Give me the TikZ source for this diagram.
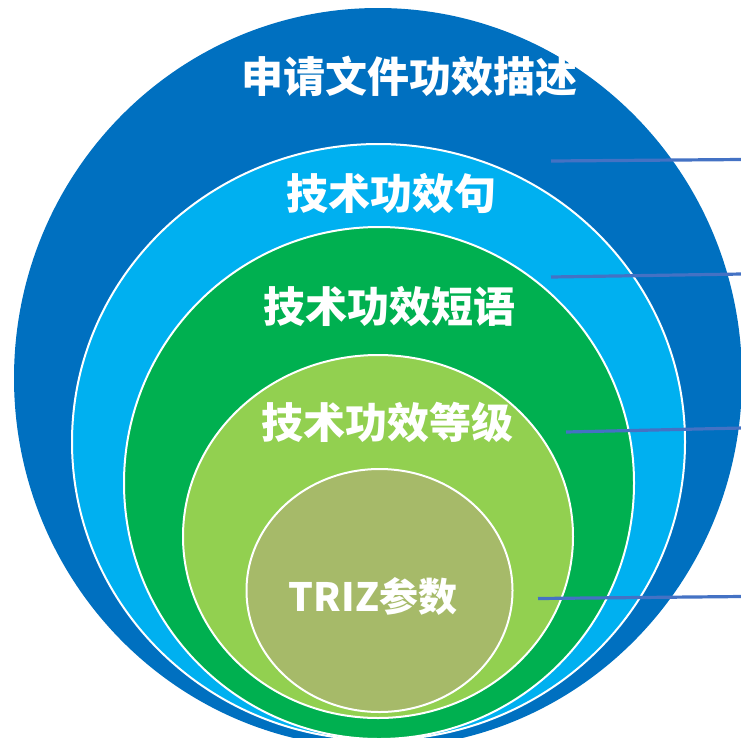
\documentclass[tikz,border=0pt]{standalone}
\usepackage{fontspec}
\newfontfamily\cjk{Noto Sans CJK SC}
\definecolor{cDark}{HTML}{0070C0}
\definecolor{cLight}{HTML}{00B0F0}
\definecolor{cGreen}{HTML}{00B050}
\definecolor{cLime}{HTML}{92D050}
\definecolor{cOlive}{HTML}{A6BA69}
\definecolor{cLine}{HTML}{4472C4}
\begin{document}
\begin{tikzpicture}[x=1pt,y=-1pt,
  ring/.style={draw=white,line width=2pt},
  lbl/.style={text=white,font=\cjk\bfseries\fontsize{42}{46}\selectfont,inner sep=0pt},
  leader/.style={draw=cLine,line width=3.2pt}]
\useasboundingbox (0,0) rectangle (741,737);
\clip (0,0) rectangle (741,737);
\fill[cDark] (378,378) ellipse [x radius=364, y radius=370];
\filldraw[ring,fill=cLight] (378.5,442) ellipse [x radius=306.5, y radius=298];
\filldraw[ring,fill=cGreen] (379,483) ellipse [x radius=255, y radius=256];
\filldraw[ring,fill=cLime] (378,536.5) ellipse [x radius=195, y radius=181.5];
\filldraw[ring,fill=cOlive] (379.5,590.5) ellipse [x radius=133, y radius=121.5];
\node[lbl] (t1) at (409,76) {申请文件功效描述};
\node[lbl] (t2) at (391,194) {技术功效句};
\node[lbl] (t3) at (389.5,307) {技术功效短语};
\node[lbl] (t4) at (387.5,422) {技术功效等级};
\node[lbl,font=\cjk\bfseries\fontsize{39}{43}\selectfont] (t5) at (373,596) {TRIZ参数};
\coordinate (a1) at (551,161); \coordinate (b1) at (742,159.5);
\coordinate (a2) at (551,277); \coordinate (b2) at (742,274);
\coordinate (a3) at (566,432); \coordinate (b3) at (742,428);
\coordinate (a4) at (538,598.5); \coordinate (b4) at (742,596.5);
\draw[leader] (a1) -- (b1);
\draw[leader] (a2) -- (b2);
\draw[leader] (a3) -- (b3);
\draw[leader] (a4) -- (b4);
\end{tikzpicture}
\end{document}
